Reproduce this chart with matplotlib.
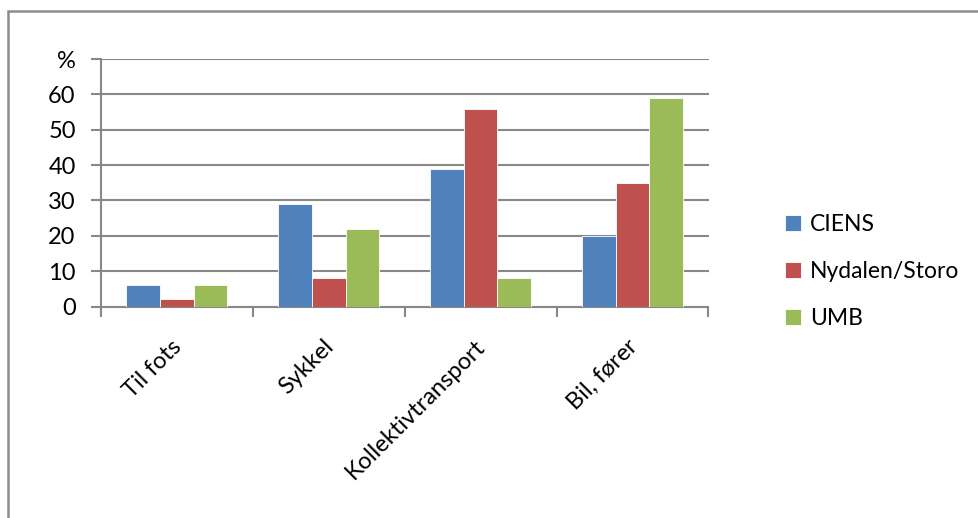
import matplotlib
matplotlib.use("Agg")
import matplotlib.pyplot as plt
import numpy as np
from matplotlib.patches import Rectangle

categories = ["Til fots", "Sykkel", "Kollektivtransport", "Bil, fører"]
series_names = ["CIENS", "Nydalen/Storo", "UMB"]
ciens = [6, 29, 39, 20]
nydalen = [2, 8, 56, 35]
umb = [6, 22, 8, 59]
colors = ["#4F81BD", "#C0504D", "#9BBB59"]
y_ticks = [0, 10, 20, 30, 40, 50, 60, 70]
y_tick_labels = ["0", "10", "20", "30", "40", "50", "60", "%"]

plt.rcParams['font.family'] = ['Lato', 'DejaVu Sans']

W, H = 979, 518
fig = plt.figure(figsize=(W / 100, H / 100), dpi=100)

# outer chart frame
fig.patches.append(Rectangle((8.5 / W, -0.1), 1.2, 1 - 11.5 / H + 0.1, transform=fig.transFigure,
                             fill=False, edgecolor="#8C8C8C", linewidth=1.8))

left, right = 100.7 / W, 708.5 / W
bottom, top = 1 - 306.5 / H, 1 - 59 / H
ax = fig.add_axes([left, bottom, right - left, top - bottom])

n = len(categories)
x = np.arange(n)
w = 1 / 4.5
data = [ciens, nydalen, umb]
for i, (vals, c, name) in enumerate(zip(data, colors, series_names)):
    ax.bar(x + (i - 1) * w, vals, width=w, color=c, edgecolor="#FFFFFF", linewidth=0.6,
           label=name, zorder=3)

ax.set_xlim(-0.5, n - 0.5)
ax.set_ylim(0, 70)
ax.set_yticks(y_ticks)
ax.set_yticklabels(y_tick_labels, fontsize=17)
ax.yaxis.grid(True, color="#888888", linewidth=1.5, zorder=0)
ax.tick_params(axis="y", length=7, width=1.5, color="#888888", pad=11)

ax.set_xticks(np.arange(n + 1) - 0.5)
ax.set_xticklabels([])
ax.tick_params(axis="x", length=7, width=1.5, color="#888888")
for xi, lab in zip(x, categories):
    ax.text(xi - 0.04, -8.3, lab, rotation=45, ha="right", va="top",
            rotation_mode="anchor", fontsize=17, transform=ax.transData)

for s in ["top", "right"]:
    ax.spines[s].set_visible(False)
for s in ["left", "bottom"]:
    ax.spines[s].set_color("#888888")
    ax.spines[s].set_linewidth(1.5)

leg = fig.legend(loc="upper left", bbox_to_anchor=(764 / W, 1 - 193 / H), frameon=False,
                 fontsize=16.5, handlelength=0.7, handleheight=0.7, handletextpad=0.4,
                 labelspacing=1.15)

fig.savefig("out.png", dpi=100)
